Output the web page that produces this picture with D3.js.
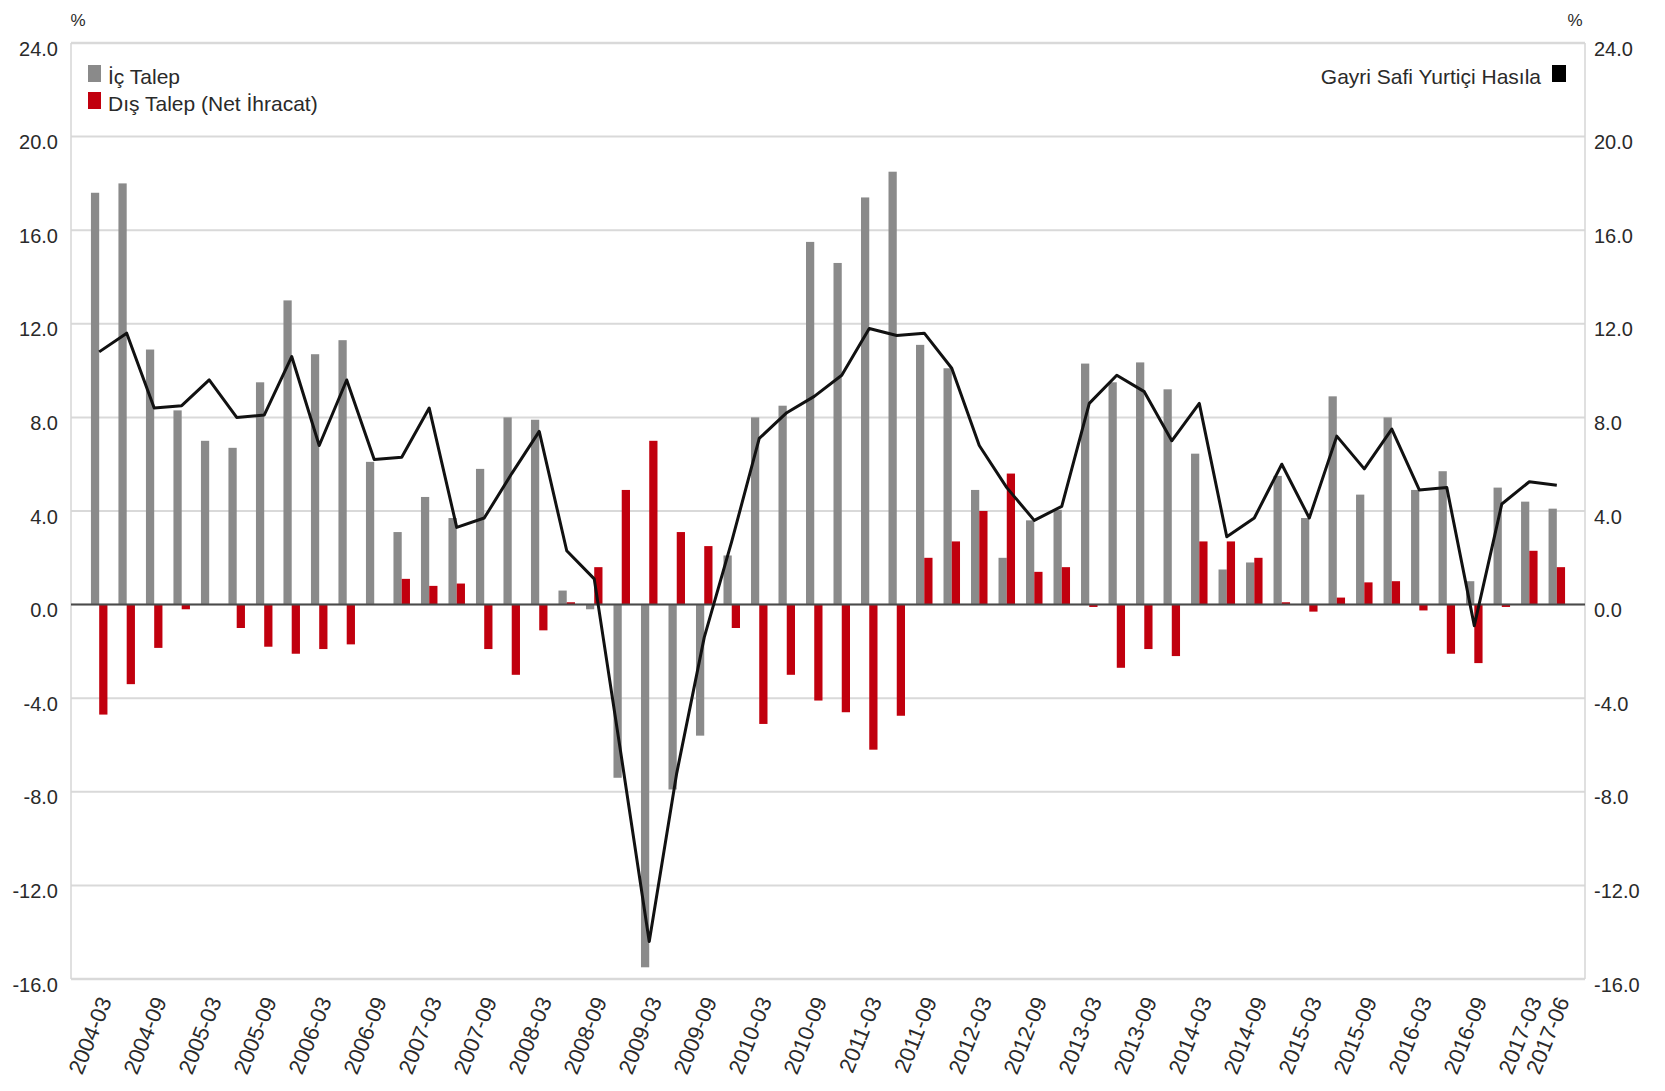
<!DOCTYPE html>
<html>
<head>
<meta charset="utf-8">
<script src="https://cdn.jsdelivr.net/npm/d3@7"></script>
<style>
  body { margin: 0; background: #fff; }
  svg text { font-family: "Liberation Sans", Arial, sans-serif; fill: #2a2a2a; }
</style>
</head>
<body>
<div class="chart-container"></div>
<script>
// Quarters
const quarters = [
  "2004-03","2004-06","2004-09","2004-12","2005-03","2005-06","2005-09","2005-12",
  "2006-03","2006-06","2006-09","2006-12","2007-03","2007-06","2007-09","2007-12",
  "2008-03","2008-06","2008-09","2008-12","2009-03","2009-06","2009-09","2009-12",
  "2010-03","2010-06","2010-09","2010-12","2011-03","2011-06","2011-09","2011-12",
  "2012-03","2012-06","2012-09","2012-12","2013-03","2013-06","2013-09","2013-12",
  "2014-03","2014-06","2014-09","2014-12","2015-03","2015-06","2015-09","2015-12",
  "2016-03","2016-06","2016-09","2016-12","2017-03","2017-06"
];
// İç Talep (grey bars)
const icTalep = [
  17.6, 18.0, 10.9, 8.3, 7.0, 6.7, 9.5, 13.0,
  10.7, 11.3, 6.1, 3.1, 4.6, 3.7, 5.8, 8.0,
  7.9, 0.6, -0.2, -7.4, -15.5, -7.9, -5.6, 2.1,
  8.0, 8.5, 15.5, 14.6, 17.4, 18.5, 11.1, 10.1,
  4.9, 2.0, 3.6, 4.05, 10.3, 9.5, 10.35, 9.2,
  6.45, 1.5, 1.8, 5.5, 3.7, 8.9, 4.7, 8.0,
  4.9, 5.7, 1.0, 5.0, 4.4, 4.1
];
// Dış Talep (Net İhracat) (red bars)
const disTalep = [
  -4.7, -3.4, -1.85, -0.2, 0.0, -1.0, -1.8, -2.1,
  -1.9, -1.7, 0.0, 1.1, 0.8, 0.9, -1.9, -3.0,
  -1.1, 0.1, 1.6, 4.9, 7.0, 3.1, 2.5, -1.0,
  -5.1, -3.0, -4.1, -4.6, -6.2, -4.75, 2.0, 2.7,
  4.0, 5.6, 1.4, 1.6, -0.1, -2.7, -1.9, -2.2,
  2.7, 2.7, 2.0, 0.1, -0.3, 0.3, 0.95, 1.0,
  -0.25, -2.1, -2.5, -0.1, 2.3, 1.6
];
// Gayri Safi Yurtiçi Hasıla (line)
const gsyh = [
  10.8, 11.6, 8.4, 8.5, 9.6, 8.0, 8.1, 10.6,
  6.8, 9.6, 6.2, 6.3, 8.4, 3.3, 3.7, 5.6,
  7.4, 2.3, 1.1, -6.6, -14.4, -7.2, -1.4, 2.7,
  7.1, 8.2, 8.9, 9.8, 11.8, 11.5, 11.6, 10.1,
  6.8, 5.0, 3.6, 4.2, 8.6, 9.8, 9.1, 7.0,
  8.6, 2.9, 3.7, 6.0, 3.7, 7.2, 5.8, 7.5,
  4.9, 5.0, -0.9, 4.3, 5.25, 5.1
];
// Axis ticks and x labels shown
const yTicks = [-16, -12, -8, -4, 0, 4, 8, 12, 16, 20, 24];
const xLabels = [
  "2004-03","2004-09","2005-03","2005-09","2006-03","2006-09","2007-03","2007-09",
  "2008-03","2008-09","2009-03","2009-09","2010-03","2010-09","2011-03","2011-09",
  "2012-03","2012-09","2013-03","2013-09","2014-03","2014-09","2015-03","2015-09",
  "2016-03","2016-09","2017-03","2017-06"
];
const seriesNames = ["İç Talep", "Dış Talep (Net İhracat)", "Gayri Safi Yurtiçi Hasıla"];

const data = quarters.map((q, i) => ({ q: q, ic: icTalep[i], dis: disTalep[i], gdp: gsyh[i] }));

// Setup
const width = 1665, height = 1091;
const margin = { top: 43, bottom: 112, left: 71, right: 80 };
const svg = d3.select(".chart-container").append("svg")
  .attr("width", width).attr("height", height);

// Scales
const x = d3.scaleBand()
  .domain(quarters)
  .range([margin.left, width - margin.right])
  .paddingInner(0.4)
  .paddingOuter(0.725);
const x1 = d3.scaleBand()
  .domain(["ic", "dis"])
  .range([0, x.bandwidth()]);
const y = d3.scaleLinear()
  .domain([-16, 24])
  .range([height - margin.bottom, margin.top]);
const color = { ic: "#8a8a8a", dis: "#c1000e", gdp: "#111111" };
// plain hyphen for negatives, like the original
const fmt = d => d.toFixed(1);

// Gridlines
svg.append("g")
  .selectAll("line")
  .data(yTicks)
  .enter().append("line")
    .attr("x1", margin.left)
    .attr("x2", width - margin.right)
    .attr("y1", d => y(d))
    .attr("y2", d => y(d))
    .attr("stroke", "#d9d9d9")
    .attr("stroke-width", d => d === 24 || d === -16 ? 2.5 : 2);

// Side frame
[margin.left, width - margin.right].forEach(px => {
  svg.append("line")
    .attr("x1", px).attr("x2", px)
    .attr("y1", y(24)).attr("y2", y(-16))
    .attr("stroke", "#d6d6d6")
    .attr("stroke-width", 1.5);
});

// Left & right axis labels
const yAxisL = d3.axisLeft(y).tickValues(yTicks).tickFormat(fmt).tickSize(0).tickPadding(13);
const yAxisR = d3.axisRight(y).tickValues(yTicks).tickFormat(fmt).tickSize(0).tickPadding(9);
svg.append("g")
  .attr("transform", `translate(${margin.left},0)`)
  .call(yAxisL)
  .call(g => g.select(".domain").remove())
  .selectAll("text")
    .attr("dy", "0.6em")
    .style("font-size", "20px")
    .style("fill", "#2a2a2a");
svg.append("g")
  .attr("transform", `translate(${width - margin.right},0)`)
  .call(yAxisR)
  .call(g => g.select(".domain").remove())
  .selectAll("text")
    .attr("dy", "0.6em")
    .style("font-size", "20px")
    .style("fill", "#2a2a2a");

// % unit labels
svg.append("text").text("%").attr("x", 78).attr("y", 26)
  .attr("text-anchor", "middle").style("font-size", "17px");
svg.append("text").text("%").attr("x", 1575).attr("y", 26)
  .attr("text-anchor", "middle").style("font-size", "17px");

// BARS
const groups = svg.selectAll(".quarter")
  .data(data)
  .enter().append("g")
  .attr("class", "quarter")
  .attr("transform", d => `translate(${x(d.q)},0)`);

groups.selectAll("rect")
  .data(d => [{ key: "ic", v: d.ic }, { key: "dis", v: d.dis }])
  .enter().append("rect")
    .attr("x", d => x1(d.key))
    .attr("width", x1.bandwidth())
    .attr("y", d => y(Math.max(0, d.v)))
    .attr("height", d => Math.abs(y(d.v) - y(0)))
    .attr("fill", d => color[d.key]);

// Zero line
svg.append("line")
  .attr("x1", margin.left).attr("x2", width - margin.right)
  .attr("y1", y(0)).attr("y2", y(0))
  .attr("stroke", "#4a4a4a")
  .attr("stroke-width", 2);

// GDP line
const line = d3.line()
  .x(d => x(d.q) + x.bandwidth() / 2)
  .y(d => y(d.gdp));
svg.append("path")
  .datum(data)
  .attr("d", line)
  .attr("fill", "none")
  .attr("stroke", color.gdp)
  .attr("stroke-width", 3)
  .attr("stroke-linejoin", "round");

// X-axis labels (rotated)
svg.append("g")
  .selectAll("text")
  .data(xLabels)
  .enter().append("text")
    .attr("transform", d => `translate(${x(d) + x.bandwidth() / 2 + 13},${y(-16) + 22}) rotate(-68)`)
    .attr("text-anchor", "end")
    .style("font-size", "22px")
    .text(d => d);

// Legend left
const legendL = [
  { name: seriesNames[0], c: color.ic, y: 84 },
  { name: seriesNames[1], c: color.dis, y: 111 }
];
legendL.forEach(l => {
  svg.append("rect")
    .attr("x", 88).attr("y", l.y - 19)
    .attr("width", 13).attr("height", 17)
    .attr("fill", l.c);
  svg.append("text")
    .attr("x", 108).attr("y", l.y)
    .style("font-size", "21px")
    .text(l.name);
});

// Legend right
svg.append("text")
  .attr("x", 1541).attr("y", 84)
  .attr("text-anchor", "end")
  .style("font-size", "21px")
  .text(seriesNames[2]);
svg.append("rect")
  .attr("x", 1552).attr("y", 65)
  .attr("width", 14).attr("height", 17)
  .attr("fill", "#000");
</script>
</body>
</html>
